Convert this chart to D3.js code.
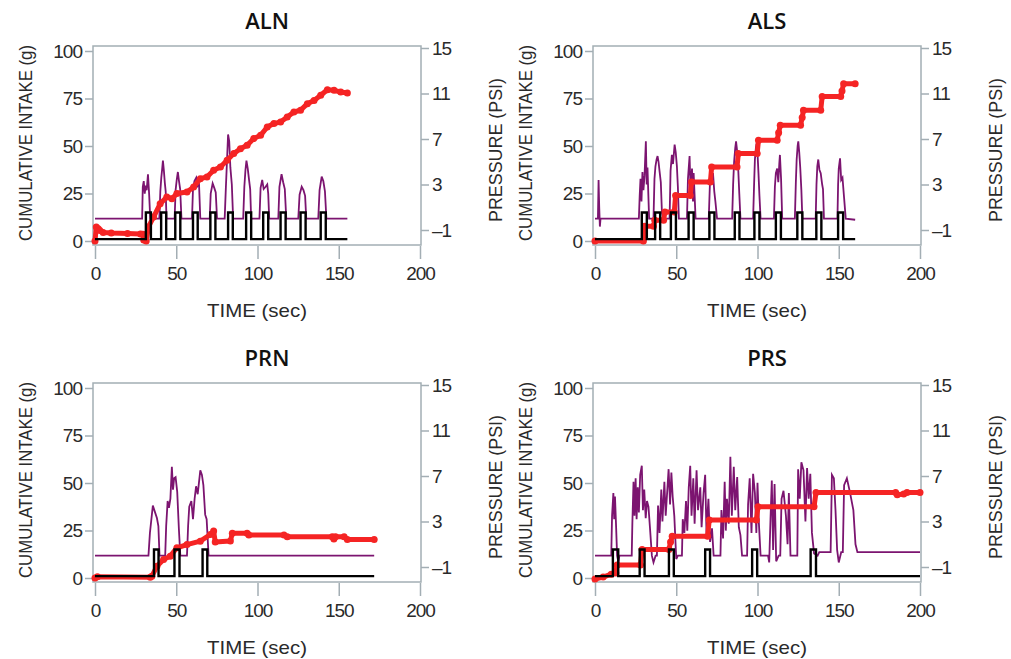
<!DOCTYPE html>
<html>
<head>
<meta charset="utf-8">
<script src="https://cdn.jsdelivr.net/npm/d3@7"></script>
<style>
	body { margin: 0; background: #fff; }
	.tick text { font-family: "Liberation Sans", Arial, sans-serif; font-size: 19px; fill: #2a2a2a; letter-spacing: -1px; }
	.tick line { stroke: #a3aeb4; stroke-width: 1.5; }
	.domain { display: none; }
	.ttl { font-family: "Open Sans", sans-serif; font-weight: 600; font-size: 22px; fill: #111; }
	.lbl { font-family: "Liberation Sans", Arial, sans-serif; font-size: 19px; fill: #2a2a2a; }
</style>
</head>
<body>
<script>
const WIDTH = 1011
	, HEIGHT = 659
	, AXIS = '#a3aeb4'
	, RED = '#f52424'
	, PURPLE = '#7c1470';

var timeTicks = [0, 50, 100, 150, 200];
var intakeTicks = [0, 25, 50, 75, 100];
var pressureTicks = [-1, 3, 7, 11, 15];
var panelNames = ['ALN', 'ALS', 'PRN', 'PRS'];

// valve signal: low / high level on intake axis
var valveLevels = [1, 15];

// ALN
var alnIntake = [[0,0],[0.8,7.4],[2,6.5],[3,5.5],[5,4.5],[10,4.2],[20,3.9],[28,3.7],[29.5,3.5],[30,0.5],[31.5,0],[32.9,7.4],[36,12.6],[40.1,19.6],[44.2,23.2],[47.3,22.3],[50.4,25],[56.6,25.8],[60.7,28.4],[64.8,32.8],[68.9,33.7],[73,37.2],[77.2,39],[81.3,42.5],[85.4,46],[89.5,48.6],[93.6,50.4],[97.7,53.9],[101.9,55.6],[106,60],[110.1,61.8],[114.2,62.6],[118.3,65.3],[122.4,67.9],[126.5,68.8],[130.7,72.3],[134.8,74],[138.9,76.7],[143,79.6],[147.1,79.3],[151.2,78.4],[155.3,77.9]];
var alnPressure = [[0,0],[29,0],[29.4,2.8],[30,3.3],[30.6,2.2],[31.2,2.9],[31.8,2.5],[32.6,3.9],[33.3,2.2],[34,0],
	[39.6,0],[40.2,2.4],[40.8,3.6],[41.3,4.3],[41.8,5.1],[42.4,4.2],[43,3.1],[43.5,2.4],[44,0],
	[49,0],[49.6,2.5],[50.3,3.4],[51,4.1],[51.7,3.3],[52.4,2.6],[53.2,0],
	[59.7,0],[60.3,2.6],[61.2,3.3],[62.3,3.6],[63.2,2.9],[64,3.1],[64.8,0],
	[70.6,0],[71.2,2.2],[72.4,3.1],[73.4,2.7],[74.3,2.3],[75.1,0],
	[79.8,0],[80.5,2.6],[81.2,5.0],[81.9,7.4],[82.6,6.8],[83.3,4.5],[84.2,3.0],[85,0],
	[91.2,0],[91.9,2.8],[92.6,4.3],[93.2,5.1],[94,4.4],[94.8,3.4],[95.5,2.6],[96.1,0],
	[101.2,0],[101.9,2.7],[102.9,3.4],[103.8,2.6],[105,2.8],[106,3.0],[106.6,2.2],[107.2,0],
	[112.8,0],[113.5,2.8],[114.8,3.9],[115.8,3.2],[116.8,2.6],[117.7,0],
	[125.1,0],[125.9,2.1],[127.2,2.8],[128.3,2.5],[129.3,2.0],[130,0],
	[137.4,0],[138.2,2.5],[139.5,3.7],[140.5,3.3],[141.5,2.4],[142.4,0],
	[155.3,0]];
var alnValve = [[31.3,34.4],[40.7,43.8],[49.4,52.5],[60.3,63.2],[71,74.1],[81.9,84.8],[93,96.1],[103.5,106.6],[114.2,117.3],[126.5,129.6],[138.9,142]];
var alnEnd = 155.3;

// ALS
var alsIntake = [[0,0],[29.8,0],[30.5,7.7],[36,7.7],[36.8,10.9],[42.2,10.9],[43,15.3],[48.8,15.3],[49.6,24],[58.6,24],[59.4,31],[71,31],[71.8,39],[87.4,39],[88.2,46],[99.8,46],[100.6,53],[112.1,53],[113,57],[114,60.9],[126.5,60.9],[127.5,65],[128.3,68.8],[138.9,68.8],[139.8,76],[151.2,76],[152,79],[153,82.8],[160.1,82.8]];
var alsPressure = [[0,0],[1.8,0],[2.2,3.4],[2.6,1.0],[3,-0.7],[3.4,0],
	[27,0],[27.5,2.0],[28,3.5],[28.6,1.5],[29.2,4.1],[29.8,2.5],[30.5,3.8],[31.3,6.8],[31.8,3.0],[32.3,4.5],[33.3,0],
	[36,0],[36.6,3.5],[37.2,4.6],[37.9,5.2],[38.5,5.5],[39.1,5.0],[39.7,4.2],[40.5,3.2],[41.2,0.5],[42.2,0],
	[45.9,0],[46.5,4.2],[47.3,5.6],[48,4.8],[49,6.5],[49.7,5.8],[50.4,4.6],[51,2.8],[51.6,0],
	[56.6,0],[57.2,3.5],[58.2,5.5],[58.8,2.5],[59.7,4.4],[60.3,1.5],[60.7,4.0],[61.3,2.0],[61.9,0],
	[70,0],[70.7,3.0],[71.4,4.4],[72,3.2],[72.6,4.0],[73.4,2.4],[74.1,1.5],[75.1,0],
	[84.4,0],[85,3.0],[85.6,5.0],[86.3,6.2],[86.8,6.8],[87.5,5.9],[88.1,4.5],[88.8,2.2],[89.5,0],
	[97.3,0],[97.9,3.0],[98.4,5.2],[99,6.2],[99.4,6.6],[100,5.8],[100.6,4.0],[101.2,2.0],[101.9,0],
	[110.1,0],[110.7,2.8],[111.3,4.0],[112.1,4.4],[112.8,3.2],[113.4,4.8],[113.8,5.6],[114.5,3.5],[115.2,0],
	[123,0],[123.6,3.2],[124.1,5.2],[124.7,6.4],[125.1,6.8],[125.7,5.8],[126.3,4.5],[127,2.5],[127.6,0],
	[135.8,0],[136.3,3.0],[136.8,4.6],[137.4,5.2],[138.1,4.3],[138.9,4.0],[139.8,3.0],[140.3,2.6],[140.9,0],
	[149.2,0],[149.6,3.0],[150,4.4],[150.8,5.3],[151.5,3.4],[152.3,3.6],[153.3,1.8],[154.3,0],
	[160.1,-0.1]];
var alsValve = [[28.8,31.9],[37,40.1],[46.7,49.8],[57.6,60.7],[70.4,73.5],[86,88.9],[98.1,101.2],[111.3,114.4],[124.5,127.6],[136.2,139.3],[149.6,152.7]];
var alsEnd = 160.1;

// PRN
var prnIntake = [[0,0],[1.5,0.6],[34,0.4],[35,0.9],[38.1,6.2],[42.2,9.7],[46.3,11.5],[50.4,15.9],[56.6,17.6],[64.8,19.4],[71,22.9],[73,24.7],[74,19],[83.3,19.5],[84.5,23.5],[93.6,23.5],[94.7,22.6],[116.3,22.6],[118.3,21.7],[146,21.7],[147,20.5],[148,21.7],[153.3,21.7],[155.3,20.3],[171.8,20.3]];
var prnPressure = [[0,0],[32.9,0],[33.8,2.0],[35.6,4.4],[36.5,4.0],[38.1,3.3],[39,2.6],[39.7,0],
	[43.2,0],[43.8,2.6],[44.7,4.8],[45.5,4.2],[46.4,5.0],[47.3,7.8],[48,5.8],[48.7,6.8],[49.6,6.9],[50.6,5.6],[51.6,2.4],[52.5,0],
	[56.6,0],[57.3,2.6],[58,4.3],[59.3,4.8],[60.3,3.2],[61.3,5.0],[62.2,6.1],[63.2,5.4],[64.8,7.5],[65.8,7.1],[66.7,6.2],[67.8,3.6],[68.7,3.2],[69.9,0],
	[171.8,0]];
var prnValve = [[36.3,39.1],[48.9,52],[66.2,69.1]];
var prnEnd = 171.8;

// PRS
var prsIntake = [[0,-0.5],[5,0.5],[10,2.0],[12.8,2.6],[13.6,6.9],[28,6.9],[29,15],[45.5,15],[46.5,19],[47.5,22],[69.3,22],[70.3,30.5],[99.3,30.5],[100.3,37.5],[134.8,37.5],[136,45],[185,45],[186,43.8],[190,44.2],[192,45],[200,45]];
var prsPressure = [[0,0],[10,0],[10.5,3.5],[11.3,5.5],[11.8,3.2],[12.3,5.2],[13,2.5],[13.6,0],[14.4,-0.6],[15,0],
	[22.6,0],[23,2.9],[23.7,6.5],[24.3,3.5],[25,6.8],[25.6,3.2],[26.3,6.0],[27,3.8],[27.8,7.1],[28.8,7.9],[29.5,4.0],[30.3,5.8],[31.2,3.3],[32,4.8],[32.9,4.3],[33.8,2.5],[35,0],[36,-0.6],[37.3,0],
	[38.1,0],[38.8,4.4],[39.7,2.0],[40.8,5.8],[41.5,3.0],[42.7,6.5],[43.5,3.5],[45.3,7.6],[46.2,4.5],[47,7.3],[47.8,5.2],[48.8,3.5],[50,-0.3],[51,0],
	[53.5,0],[54,3.2],[55,2.0],[56,4.8],[56.8,2.2],[57.7,6.0],[58.6,7.9],[59.4,3.5],[60.5,6.8],[61.3,2.8],[62.5,7.5],[63.4,4.0],[64.8,6.0],[65.6,2.5],[66.8,5.5],[67.8,7.1],[68.6,2.0],[69.8,5.0],[70.8,1.2],[72,2.4],[73,0],
	[77.2,0],[77.8,4.0],[78.8,1.5],[79.8,6.5],[80.5,2.2],[81.2,5.0],[82.3,2.8],[83.3,8.7],[84.2,3.5],[85.4,7.8],[86.3,4.0],[87.5,6.9],[88.5,2.5],[89.5,1.8],[90.5,0],
	[93.6,0],[94.2,4.5],[95.2,6.8],[96.3,2.0],[97.3,7.2],[98.4,5.5],[99.3,2.0],[100,6.4],[100.8,3.0],[101.9,0],
	[106.5,0],[107.2,-0.6],[108,3.2],[108.8,6.6],[109.6,0.5],[110.5,6.3],[111.5,-0.5],[113,0],
	[114,0],[114.8,5.0],[116,5.7],[117.5,3.5],[118.5,1.0],[119.3,5.5],[120.3,0],
	[124.5,0],[125,7.6],[126,5.0],[127,8.2],[128.3,7.5],[129.5,3.0],[130.5,7.7],[131.5,5.0],[132.5,7.2],[133.5,2.0],[134.8,0.2],
	[137,0],[138,0.3],[145,0.3],[145.8,7.1],[147,6.8],[148,4.0],[149,0.5],[150,-0.6],[151.5,0.3],
	[152.5,0.3],[153.3,6.2],[155,6.8],[157,5.5],[159,4.0],[160.3,1.0],[161.5,0.3],[200,0.3]];
var prsValve = [[11,14.3],[27.5,30.5],[45.5,48.5],[67.8,70.8],[96.7,99.8],[132.7,136]];
var prsEnd = 200;

var translate = function (x, y) {
	return "translate(" + x + "," + y + ")";
};

// turn pulse intervals into a step path
var valvePoints = function (pulses, end) {
	var pts = [[0, valveLevels[0]]];
	pulses.forEach(function (p) {
		pts.push([p[0], valveLevels[0]], [p[0], valveLevels[1]], [p[1], valveLevels[1]], [p[1], valveLevels[0]]);
	});
	pts.push([end, valveLevels[0]]);
	return pts;
};

var panels = [
	{ name: panelNames[0], col: 0, row: 0, intake: alnIntake, pressure: alnPressure, valve: alnValve, end: alnEnd },
	{ name: panelNames[1], col: 1, row: 0, intake: alsIntake, pressure: alsPressure, valve: alsValve, end: alsEnd },
	{ name: panelNames[2], col: 0, row: 1, intake: prnIntake, pressure: prnPressure, valve: prnValve, end: prnEnd },
	{ name: panelNames[3], col: 1, row: 1, intake: prsIntake, pressure: prsPressure, valve: prsValve, end: prsEnd }
];

var svg = d3.select('body').append('svg')
	.attr('width', WIDTH)
	.attr('height', HEIGHT);

var drawPanel = function (p) {
	var g = svg.append('g').attr('transform', translate(p.col * 500, p.row * 337));
	var x = d3.scaleLinear().domain([0, 200]).range([95, 420]);
	var yL = d3.scaleLinear().domain([0, 100]).range([241, 51]);
	var yR = d3.scaleLinear().domain([-1, 15]).range([230, 48]);

	g.append('rect')
		.attr('x', 93).attr('y', 46)
		.attr('width', 328).attr('height', 199)
		.attr('fill', 'none')
		.attr('stroke', AXIS)
		.attr('stroke-width', 1.5);

	g.append('g')
		.attr('transform', translate(0, 246))
		.call(d3.axisBottom(x).tickValues(timeTicks).tickSize(13).tickPadding(8));
	g.append('g')
		.attr('transform', translate(93, 0))
		.call(d3.axisLeft(yL).tickValues(intakeTicks).tickSize(8).tickPadding(3));
	g.append('g')
		.attr('transform', translate(421, 0))
		.call(d3.axisRight(yR).tickValues(pressureTicks).tickSize(8).tickPadding(3)
			.tickFormat(function (d) { return d < 0 ? '\u2013' + Math.abs(d) : d; }));

	var lineL = d3.line().x(function (d) { return x(d[0]); }).y(function (d) { return yL(d[1]); });
	var lineR = d3.line().x(function (d) { return x(d[0]); }).y(function (d) { return yR(d[1]); });

	g.append('path')
		.attr('d', lineR(p.pressure))
		.attr('fill', 'none')
		.attr('stroke', PURPLE)
		.attr('stroke-width', 1.8);

	g.append('path')
		.attr('d', lineL(p.intake))
		.attr('fill', 'none')
		.attr('stroke', RED)
		.attr('stroke-width', 5)
		.attr('stroke-linejoin', 'round');
	g.selectAll('circle.intake').data(p.intake).enter().append('circle')
		.attr('class', 'intake')
		.attr('cx', function (d) { return x(d[0]); })
		.attr('cy', function (d) { return yL(d[1]); })
		.attr('r', 3.5)
		.attr('fill', RED);

	g.append('path')
		.attr('d', lineL(valvePoints(p.valve, p.end)))
		.attr('fill', 'none')
		.attr('stroke', '#000')
		.attr('stroke-width', 2.4);

	g.append('text').attr('class', 'ttl')
		.attr('x', 267).attr('y', 29)
		.attr('text-anchor', 'middle')
		.text(p.name);
	g.append('text').attr('class', 'lbl')
		.attr('x', 257).attr('y', 317)
		.attr('text-anchor', 'middle')
		.attr('textLength', 100).attr('lengthAdjust', 'spacingAndGlyphs')
		.text('TIME  (sec)');
	g.append('text').attr('class', 'lbl')
		.attr('transform', translate(32, 143) + ' rotate(-90)')
		.attr('text-anchor', 'middle')
		.attr('textLength', 196).attr('lengthAdjust', 'spacingAndGlyphs')
		.text('CUMULATIVE INTAKE (g)');
	g.append('text').attr('class', 'lbl')
		.attr('transform', translate(502, 150) + ' rotate(-90)')
		.attr('text-anchor', 'middle')
		.attr('textLength', 144).attr('lengthAdjust', 'spacingAndGlyphs')
		.text('PRESSURE  (PSI)');
};

window.onload = function () {
	panels.forEach(drawPanel);
};
</script>
</body>
</html>
